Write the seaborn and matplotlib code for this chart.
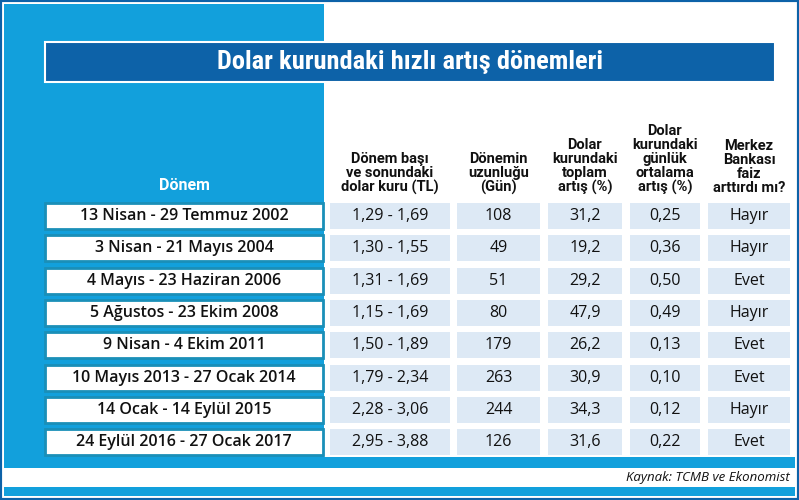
import matplotlib
matplotlib.use("Agg")
import matplotlib.pyplot as plt
import matplotlib.patches as mpatches
import seaborn as sns

title = "Dolar kurundaki hızlı artış dönemleri"
periods = ["13 Nisan - 29 Temmuz 2002", "3 Nisan - 21 Mayıs 2004", "4 Mayıs - 23 Haziran 2006",
           "5 Ağustos - 23 Ekim 2008", "9 Nisan - 4 Ekim 2011", "10 Mayıs 2013 - 27 Ocak 2014",
           "14 Ocak - 14 Eylül 2015", "24 Eylül 2016 - 27 Ocak 2017"]
rates = ["1,29 - 1,69", "1,30 - 1,55", "1,31 - 1,69", "1,15 - 1,69", "1,50 - 1,89",
         "1,79 - 2,34", "2,28 - 3,06", "2,95 - 3,88"]
days = [108, 49, 51, 80, 179, 263, 244, 126]
total_pct = ["31,2", "19,2", "29,2", "47,9", "26,2", "30,9", "34,3", "31,6"]
daily_pct = ["0,25", "0,36", "0,50", "0,49", "0,13", "0,10", "0,12", "0,22"]
rate_hike = ["Hayır", "Hayır", "Evet", "Hayır", "Evet", "Evet", "Hayır", "Evet"]
headers = ["Dönem başı\nve sonundaki\ndolar kuru (TL)", "Dönemin\nuzunluğu\n(Gün)",
           "Dolar\nkurundaki\ntoplam\nartış (%)", "Dolar\nkurundaki\ngünlük\nortalama\nartış (%)",
           "Merkez\nBankası\nfaiz\narttırdı mı?"]
source = "Kaynak: TCMB ve Ekonomist"

sns.set_theme(style="white")
plt.rcParams["font.family"] = ["Open Sans", "DejaVu Sans"]

BLUE = "#12a0dc"
DARK = "#0d62a8"
CELL = "#dde9f5"

fig = plt.figure(figsize=(7.99, 5.0), dpi=100)
ax = fig.add_axes([0, 0, 1, 1])
ax.set_xlim(0, 799)
ax.set_ylim(500, 0)
ax.axis("off")

def rect(x, y, w, h, fc, ec="none", lw=0):
    ax.add_patch(mpatches.Rectangle((x, y), w, h, facecolor=fc, edgecolor=ec, linewidth=lw))

rect(0, 0, 799, 500, "white", DARK, 3)
rect(4, 4, 791, 492, BLUE)
rect(324, 4, 471, 453, "white")
rect(4, 468, 791, 19, "white")
ax.text(790, 478, source, ha="right", va="center", fontsize=9.5, style="italic", color="#111")

rect(45, 42, 730, 40, DARK, "white", 1.5)
ax.text(410, 62, title, ha="center", va="center", fontsize=19, fontweight="bold",
        color="white", family=["Roboto Condensed", "Roboto", "DejaVu Sans"])

ax.text(184, 186, "Dönem", ha="center", va="center", fontsize=11.5, fontweight="bold", color="white",
        family=["Roboto", "DejaVu Sans"])
col_x = [330, 457, 548, 630, 708]
col_w = [120, 83, 74, 70, 82]
for cx, cw, h in zip(col_x, col_w, headers):
    ax.text(cx + cw / 2, 195, h, ha="center", va="bottom", fontsize=10.5, fontweight="bold",
            color="#111", linespacing=1.0, family=["Roboto", "DejaVu Sans"])

cols = [rates, [str(d) for d in days], total_pct, daily_pct, rate_hike]
for i, p in enumerate(periods):
    yc = 216 + i * 32.3
    rect(45, yc - 13, 278, 26, "white", "#1a8fb8", 2)
    ax.text(184, yc, p, ha="center", va="center", fontsize=11.5, fontweight="semibold", color="#111")
    for cx, cw, vals in zip(col_x, col_w, cols):
        rect(cx, yc - 13, cw, 26, CELL)
        ax.text(cx + cw / 2, yc, vals[i], ha="center", va="center", fontsize=11.5, color="#111")

fig.savefig("out.png", dpi=100)
